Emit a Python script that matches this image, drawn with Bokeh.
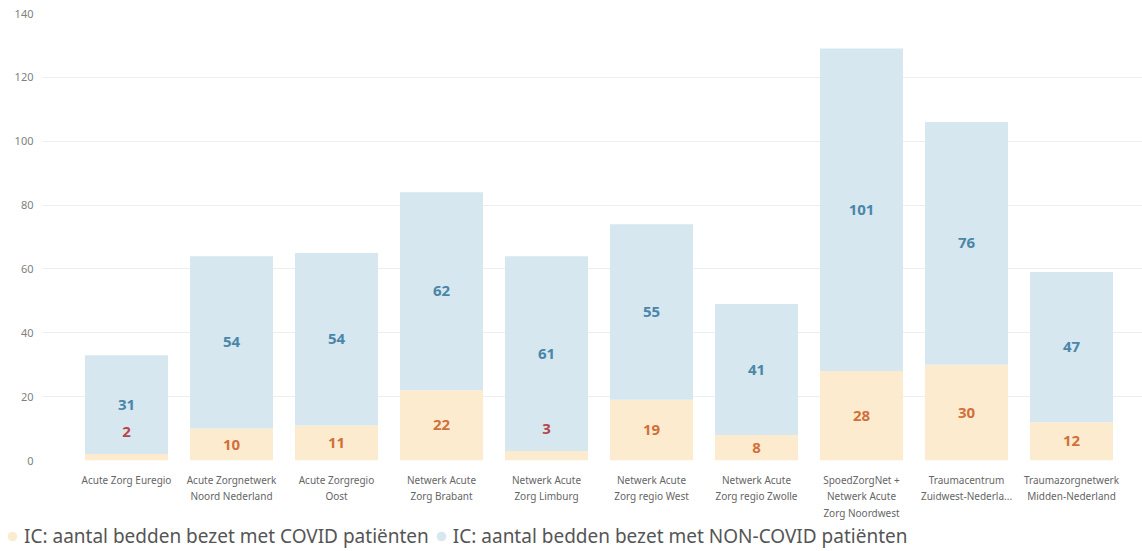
from bokeh.plotting import figure
from bokeh.layouts import column
from bokeh.models import (ColumnDataSource, Range1d, FixedTicker, LabelSet, Legend, LegendItem)
from bokeh.core.properties import value
from bokeh.embed import file_html
from bokeh.resources import INLINE

regions = ["Acute Zorg Euregio", "Acute Zorgnetwerk\nNoord Nederland", "Acute Zorgregio\nOost",
           "Netwerk Acute\nZorg Brabant", "Netwerk Acute\nZorg Limburg", "Netwerk Acute\nZorg regio West",
           "Netwerk Acute\nZorg regio Zwolle", "SpoedZorgNet +\nNetwerk Acute\nZorg Noordwest",
           "Traumacentrum\nZuidwest-Nederla...", "Traumazorgnetwerk\nMidden-Nederland"]
covid = [2, 10, 11, 22, 3, 19, 8, 28, 30, 12]
noncovid = [31, 54, 54, 62, 61, 55, 41, 101, 76, 47]
series_names = ["IC: aantal bedden bezet met COVID patiënten", "IC: aantal bedden bezet met NON-COVID patiënten"]
y_ticks = [0, 20, 40, 60, 80, 100, 120, 140]

C_COVID = "#fdebcf"
C_NON = "#d6e7f0"
FONT = "Noto Sans"

x = list(range(len(regions)))
total = [a + b for a, b in zip(covid, noncovid)]
src = ColumnDataSource(dict(
    x=x, covid=covid, noncovid=noncovid, total=total,
    non_mid=[a + b / 2 for a, b in zip(covid, noncovid)],
    non_lbl=[str(v) for v in noncovid],
))
small = [i for i, v in enumerate(covid) if v < 5]
big = [i for i, v in enumerate(covid) if v >= 5]
src_big = ColumnDataSource(dict(x=[x[i] for i in big], y=[covid[i] / 2 for i in big],
                                t=[str(covid[i]) for i in big]))
src_small = ColumnDataSource(dict(x=[x[i] for i in small], y=[covid[i] for i in small],
                                  t=[str(covid[i]) for i in small]))

p = figure(width=1142, height=523, output_backend="svg", toolbar_location=None,
           x_range=Range1d(-0.8, 9.676), y_range=Range1d(0, 140),
           min_border_left=42, min_border_right=0, min_border_top=13, min_border_bottom=63)
p.outline_line_color = None
p.background_fill_color = "white"
p.border_fill_color = "white"
p.frame_align = False

r1 = p.vbar(x="x", bottom=0, top="covid", width=0.79, source=src, fill_color=C_COVID, line_color=None)
r2 = p.vbar(x="x", bottom="covid", top="total", width=0.79, source=src, fill_color=C_NON, line_color=None)

lbl_kw = dict(text_align="center", text_baseline="middle", text_font=value(FONT),
              text_font_size="15px", text_font_style="bold")
p.add_layout(LabelSet(x="x", y="non_mid", text="non_lbl", source=src, text_color="#4a86a8", **lbl_kw))
p.add_layout(LabelSet(x="x", y="y", text="t", source=src_big, text_color="#d0703a", **lbl_kw))
p.add_layout(LabelSet(x="x", y="y", text="t", source=src_small, y_offset=22, text_color="#b84545", **lbl_kw))

p.xaxis.ticker = FixedTicker(ticks=x)
p.xaxis.major_label_overrides = {i: lab for i, lab in enumerate(regions)}
p.xaxis.axis_line_color = None
p.xaxis.major_tick_line_color = None
p.xaxis.major_tick_out = 0
p.xaxis.major_tick_in = 0
p.xaxis.minor_tick_line_color = None
p.xaxis.major_label_text_font = FONT
p.xaxis.major_label_text_font_size = "10px"
p.xaxis.major_label_text_color = "#666666"
p.xaxis.major_label_standoff = 12

p.yaxis.ticker = FixedTicker(ticks=y_ticks)
p.yaxis.axis_line_color = None
p.yaxis.major_tick_line_color = None
p.yaxis.major_tick_out = 0
p.yaxis.major_tick_in = 0
p.yaxis.minor_tick_line_color = None
p.yaxis.major_label_text_font = FONT
p.yaxis.major_label_text_font_size = "11px"
p.yaxis.major_label_text_color = "#808080"
p.yaxis.major_label_standoff = 9

p.xgrid.grid_line_color = None
p.ygrid.ticker = FixedTicker(ticks=y_ticks)
p.ygrid.grid_line_color = "#eeeeee"

# legend strip
lg = figure(width=1142, height=28, output_backend="svg", toolbar_location=None,
            x_range=Range1d(0, 1), y_range=Range1d(0, 1),
            x_axis_location=None, y_axis_location=None,
            min_border_left=0, min_border_right=0, min_border_top=0, min_border_bottom=0)
lg.outline_line_color = None
lg.grid.visible = False
lg.frame_align = False
d1 = lg.scatter(x=[-5], y=[-5], marker="circle", size=10, fill_color=C_COVID, line_color=None)
d2 = lg.scatter(x=[-5], y=[-5], marker="circle", size=10, fill_color=C_NON, line_color=None)
legend = Legend(items=[LegendItem(label=series_names[0], renderers=[d1]),
                       LegendItem(label=series_names[1], renderers=[d2])],
                orientation="horizontal", location=(0, 2),
                label_text_font=FONT, label_text_font_size="19px", label_text_color="#555555",
                glyph_width=24, glyph_height=24, spacing=0, padding=0, margin=0,
                label_standoff=0, border_line_color=None, background_fill_alpha=0)
lg.add_layout(legend, "center")

layout = column(p, lg, spacing=0)
open("out.html", "w").write(file_html(layout, INLINE))
